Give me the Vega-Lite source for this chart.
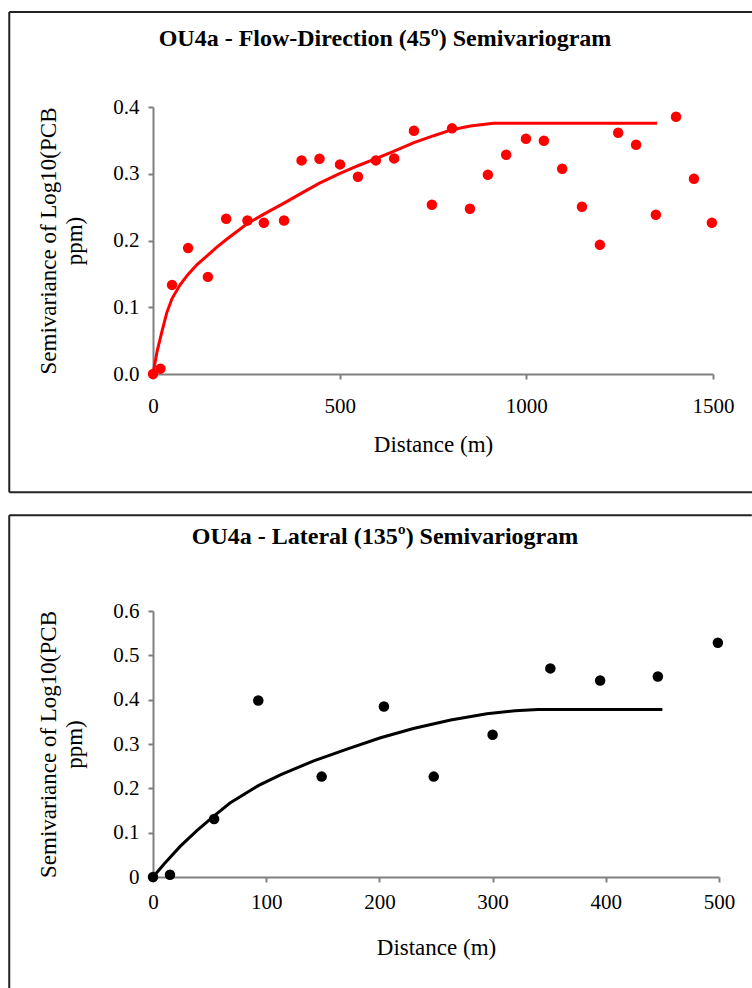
{
  "$schema": "https://vega.github.io/schema/vega-lite/v6.json",
  "padding": {"left": 8, "top": 10, "right": 0, "bottom": 0},
  "autosize": {"type": "pad"},
  "spacing": 20,
  "background": "white",
  "config": {
    "view": {"stroke": null},
    "font": "Liberation Serif",
    "axis": {
      "grid": false,
      "domainColor": "#808080",
      "domainWidth": 2,
      "tickColor": "#808080",
      "tickWidth": 2,
      "tickSize": 5,
      "labelFont": "Liberation Serif",
      "labelFontSize": 21,
      "labelColor": "black",
      "labelFlush": false,
      "labelOverlap": false,
      "titleFont": "Liberation Serif",
      "titleFontSize": 23,
      "titleFontWeight": "normal",
      "titleColor": "black"
    },
    "axisX": {"labelPadding": 16, "titlePadding": 17},
    "axisY": {"labelPadding": 9, "titlePadding": 26, "titleLineHeight": 26},
    "title": {"font": "Liberation Serif", "fontSize": 24, "fontWeight": "bold", "color": "black"}
  },
  "datasets": {
    "flowPoints": [
      {"distance": 0, "semivariance": 0},
      {"distance": 20, "semivariance": 0.008},
      {"distance": 51, "semivariance": 0.1335},
      {"distance": 94, "semivariance": 0.1886},
      {"distance": 147, "semivariance": 0.1455},
      {"distance": 196, "semivariance": 0.2325},
      {"distance": 253, "semivariance": 0.23},
      {"distance": 297, "semivariance": 0.2265},
      {"distance": 351, "semivariance": 0.23},
      {"distance": 398, "semivariance": 0.32},
      {"distance": 446, "semivariance": 0.3225},
      {"distance": 501, "semivariance": 0.314},
      {"distance": 549, "semivariance": 0.2955},
      {"distance": 597, "semivariance": 0.32},
      {"distance": 646, "semivariance": 0.323},
      {"distance": 699, "semivariance": 0.3645},
      {"distance": 747, "semivariance": 0.2535},
      {"distance": 801, "semivariance": 0.368},
      {"distance": 849, "semivariance": 0.2475},
      {"distance": 897, "semivariance": 0.2985},
      {"distance": 946, "semivariance": 0.3285},
      {"distance": 999, "semivariance": 0.3525},
      {"distance": 1047, "semivariance": 0.3495},
      {"distance": 1096, "semivariance": 0.3075},
      {"distance": 1149, "semivariance": 0.2505},
      {"distance": 1197, "semivariance": 0.1935},
      {"distance": 1246, "semivariance": 0.3615},
      {"distance": 1294, "semivariance": 0.3435},
      {"distance": 1347, "semivariance": 0.2385},
      {"distance": 1401, "semivariance": 0.3855},
      {"distance": 1449, "semivariance": 0.2925},
      {"distance": 1497, "semivariance": 0.2265}
    ],
    "flowModel": [
      {"distance": 0, "model": 0},
      {"distance": 11, "model": 0.034},
      {"distance": 24, "model": 0.064},
      {"distance": 37, "model": 0.092},
      {"distance": 51, "model": 0.113},
      {"distance": 73, "model": 0.134},
      {"distance": 95, "model": 0.15},
      {"distance": 118, "model": 0.164},
      {"distance": 147, "model": 0.178},
      {"distance": 171, "model": 0.19},
      {"distance": 200, "model": 0.203},
      {"distance": 253, "model": 0.2255},
      {"distance": 297, "model": 0.2395},
      {"distance": 351, "model": 0.256},
      {"distance": 398, "model": 0.271},
      {"distance": 446, "model": 0.286},
      {"distance": 501, "model": 0.3005},
      {"distance": 549, "model": 0.312},
      {"distance": 597, "model": 0.3225},
      {"distance": 646, "model": 0.334},
      {"distance": 699, "model": 0.3465},
      {"distance": 752, "model": 0.357},
      {"distance": 801, "model": 0.366},
      {"distance": 850, "model": 0.3715},
      {"distance": 912, "model": 0.3755},
      {"distance": 1350, "model": 0.3755}
    ],
    "latPoints": [
      {"distance": 0, "semivariance": 0},
      {"distance": 15, "semivariance": 0.005},
      {"distance": 54, "semivariance": 0.131},
      {"distance": 93, "semivariance": 0.398},
      {"distance": 149, "semivariance": 0.2265},
      {"distance": 204, "semivariance": 0.3846},
      {"distance": 248, "semivariance": 0.2265},
      {"distance": 300, "semivariance": 0.3207},
      {"distance": 351, "semivariance": 0.4705},
      {"distance": 395, "semivariance": 0.4434},
      {"distance": 446, "semivariance": 0.4524},
      {"distance": 499, "semivariance": 0.5285}
    ],
    "latModel": [
      {"distance": 0, "model": 0},
      {"distance": 10, "model": 0.03},
      {"distance": 24, "model": 0.069},
      {"distance": 39, "model": 0.105},
      {"distance": 54, "model": 0.138},
      {"distance": 68, "model": 0.167},
      {"distance": 93, "model": 0.206},
      {"distance": 113, "model": 0.231},
      {"distance": 142, "model": 0.262},
      {"distance": 172, "model": 0.289},
      {"distance": 201, "model": 0.314},
      {"distance": 230, "model": 0.335},
      {"distance": 263, "model": 0.354},
      {"distance": 295, "model": 0.368},
      {"distance": 320, "model": 0.375},
      {"distance": 340, "model": 0.378},
      {"distance": 450, "model": 0.378}
    ]
  },
  "vconcat": [
    {
      "width": 560,
      "height": 267,
      "title": {"text": "OU4a - Flow-Direction (45º) Semivariogram", "frame": "group", "anchor": "middle", "dx": -48, "offset": -40},
      "layer": [
        {
          "data": {"values": [{}]},
          "mark": {"type": "rule", "color": "#222222", "strokeWidth": 2},
          "encoding": {
            "x": {"datum": -385, "type": "quantitative"},
            "x2": {"datum": 1605},
            "y": {"datum": 0.5425, "type": "quantitative"}
          }
        },
        {
          "data": {"values": [{}]},
          "mark": {"type": "rule", "color": "#222222", "strokeWidth": 2},
          "encoding": {
            "x": {"datum": -385, "type": "quantitative"},
            "x2": {"datum": 1605},
            "y": {"datum": -0.177, "type": "quantitative"}
          }
        },
        {
          "data": {"values": [{}]},
          "mark": {"type": "rule", "color": "#222222", "strokeWidth": 2},
          "encoding": {
            "x": {"datum": -385, "type": "quantitative"},
            "y": {"datum": -0.177, "type": "quantitative"},
            "y2": {"datum": 0.5425}
          }
        },
        {
          "data": {"name": "flowPoints"},
          "mark": {"type": "circle", "size": 110, "color": "#FF0000", "opacity": 1},
          "encoding": {
            "x": {
              "field": "distance", "type": "quantitative",
              "scale": {"domain": [0, 1500], "nice": false},
              "axis": {"title": "Distance (m)", "values": [0, 500, 1000, 1500], "format": "d"}
            },
            "y": {
              "field": "semivariance", "type": "quantitative",
              "scale": {"domain": [0, 0.4], "nice": false},
              "axis": {"title": ["Semivariance of Log10(PCB", "ppm)"], "values": [0, 0.1, 0.2, 0.3, 0.4], "format": ".1f"}
            }
          }
        },
        {
          "data": {"name": "flowModel"},
          "mark": {"type": "line", "color": "#FF0000", "strokeWidth": 3},
          "encoding": {
            "x": {"field": "distance", "type": "quantitative"},
            "y": {"field": "model", "type": "quantitative"}
          }
        }
      ]
    },
    {
      "width": 566,
      "height": 266,
      "title": {"text": "OU4a - Lateral (135º) Semivariogram", "frame": "group", "anchor": "middle", "dx": -51, "offset": -35},
      "layer": [
        {
          "data": {"values": [{}]},
          "mark": {"type": "rule", "color": "#222222", "strokeWidth": 2},
          "encoding": {
            "x": {"datum": -127, "type": "quantitative"},
            "x2": {"datum": 529},
            "y": {"datum": 0.816, "type": "quantitative"}
          }
        },
        {
          "data": {"values": [{}]},
          "mark": {"type": "rule", "color": "#222222", "strokeWidth": 2},
          "encoding": {
            "x": {"datum": -127, "type": "quantitative"},
            "y": {"datum": -0.255, "type": "quantitative"},
            "y2": {"datum": 0.816}
          }
        },
        {
          "data": {"name": "latPoints"},
          "mark": {"type": "circle", "size": 110, "color": "#000000", "opacity": 1},
          "encoding": {
            "x": {
              "field": "distance", "type": "quantitative",
              "scale": {"domain": [0, 500], "nice": false},
              "axis": {"title": "Distance (m)", "values": [0, 100, 200, 300, 400, 500], "format": "d", "labelPadding": 9, "titlePadding": 24}
            },
            "y": {
              "field": "semivariance", "type": "quantitative",
              "scale": {"domain": [0, 0.6], "nice": false},
              "axis": {"title": ["Semivariance of Log10(PCB", "ppm)"], "values": [0, 0.1, 0.2, 0.3, 0.4, 0.5, 0.6], "labelExpr": "datum.value == 0 ? '0' : format(datum.value, '.1f')"}
            }
          }
        },
        {
          "data": {"name": "latModel"},
          "mark": {"type": "line", "color": "#000000", "strokeWidth": 3},
          "encoding": {
            "x": {"field": "distance", "type": "quantitative"},
            "y": {"field": "model", "type": "quantitative"}
          }
        }
      ]
    }
  ]
}
